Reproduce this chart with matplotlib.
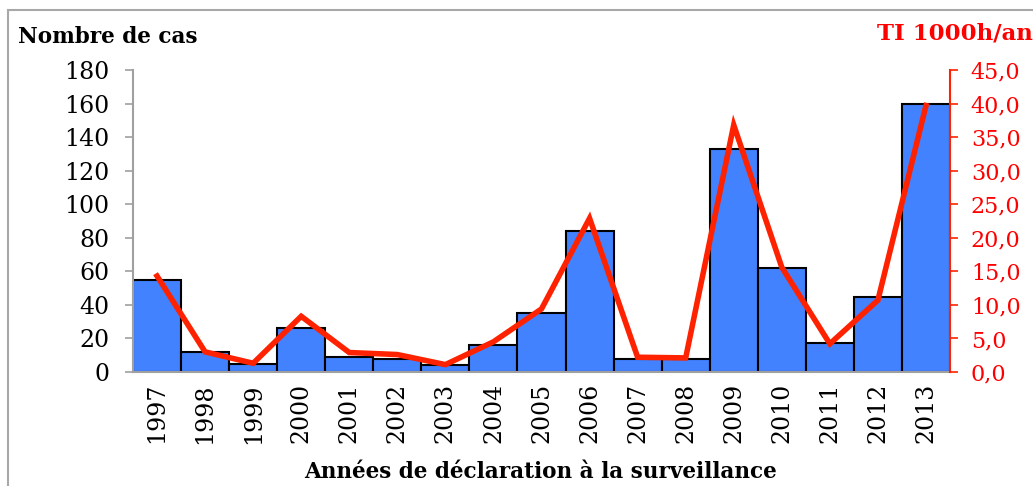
import numpy as np
import matplotlib
matplotlib.use("Agg")
import matplotlib.pyplot as plt
from matplotlib.patches import Rectangle

years = ['1997', '1998', '1999', '2000', '2001', '2002', '2003', '2004', '2005',
         '2006', '2007', '2008', '2009', '2010', '2011', '2012', '2013']
cases = [55, 12, 5, 26, 9, 8, 4, 16, 35, 84, 8, 8, 133, 62, 17, 45, 160]
rate = [14.3, 3.0, 1.3, 8.3, 2.9, 2.6, 1.1, 4.5, 9.4, 22.9, 2.2, 2.1, 36.8, 15.6, 4.2, 10.7, 39.7]
left_ticks = [0, 20, 40, 60, 80, 100, 120, 140, 160, 180]
right_ticks = [0, 5, 10, 15, 20, 25, 30, 35, 40, 45]

plt.rcParams['font.family'] = ['DejaVu Serif']
blue = '#4282FF'
red = '#FF2200'
text_red = '#FF0000'
grey = '#A0A0A0'

fig = plt.figure(figsize=(10.33, 4.86), dpi=100)
fig.patches.append(Rectangle((8 / 1033, -0.1), 1.2, 1 - 10 / 486 + 0.1, transform=fig.transFigure,
                             fill=False, edgecolor='#A8A8A8', lw=1.5))

ax = fig.add_axes([133 / 1033, 1 - 372 / 486, (950 - 133) / 1033, (372 - 70) / 486])
x = np.arange(len(years))
ax.bar(x, cases, width=1.0, color=blue, edgecolor='black', linewidth=1.5, zorder=2)
ax.set_xlim(-0.5, len(years) - 0.5)
ax.set_ylim(0, 180)
ax.set_yticks(left_ticks)
ax.set_yticklabels([str(v) for v in left_ticks], fontsize=17)
ax.set_xticks(x)
ax.set_xticklabels(years, rotation=90, fontsize=17)
ax.tick_params(axis='x', length=0, pad=8)
ax.tick_params(axis='y', length=6, width=1.2, color=grey, pad=11)
for s in ['top', 'right']:
    ax.spines[s].set_visible(False)
ax.spines['left'].set_color(grey)
ax.spines['bottom'].set_color(grey)
ax.spines['left'].set_linewidth(1.5)
ax.spines['bottom'].set_linewidth(1.5)

ax2 = ax.twinx()
ax2.plot(x, rate, color=red, lw=4, solid_joinstyle='miter', zorder=3)
ax2.set_ylim(0, 45)
ax2.set_yticks(right_ticks)
ax2.set_yticklabels([f'{v},0' for v in right_ticks], fontsize=16, color=text_red)
ax2.tick_params(axis='y', length=6, width=1.2, color=red, pad=9)
for s in ['top', 'left', 'bottom']:
    ax2.spines[s].set_visible(False)
ax2.spines['right'].set_color(red)
ax2.spines['right'].set_linewidth(1.5)

fig.text(18 / 1033, 1 - 37 / 486, 'Nombre de cas', fontsize=15.5, fontweight='bold', va='center', ha='left')
fig.text(1033 / 1033, 1 - 33 / 486, 'TI 1000h/an', fontsize=16.5, fontweight='bold', color=text_red,
         va='center', ha='right')
fig.text(540 / 1033, 1 - 472 / 486, 'Années de déclaration à la surveillance', fontsize=15.5,
         fontweight='bold', va='center', ha='center')

fig.savefig('out.png', dpi=100)
